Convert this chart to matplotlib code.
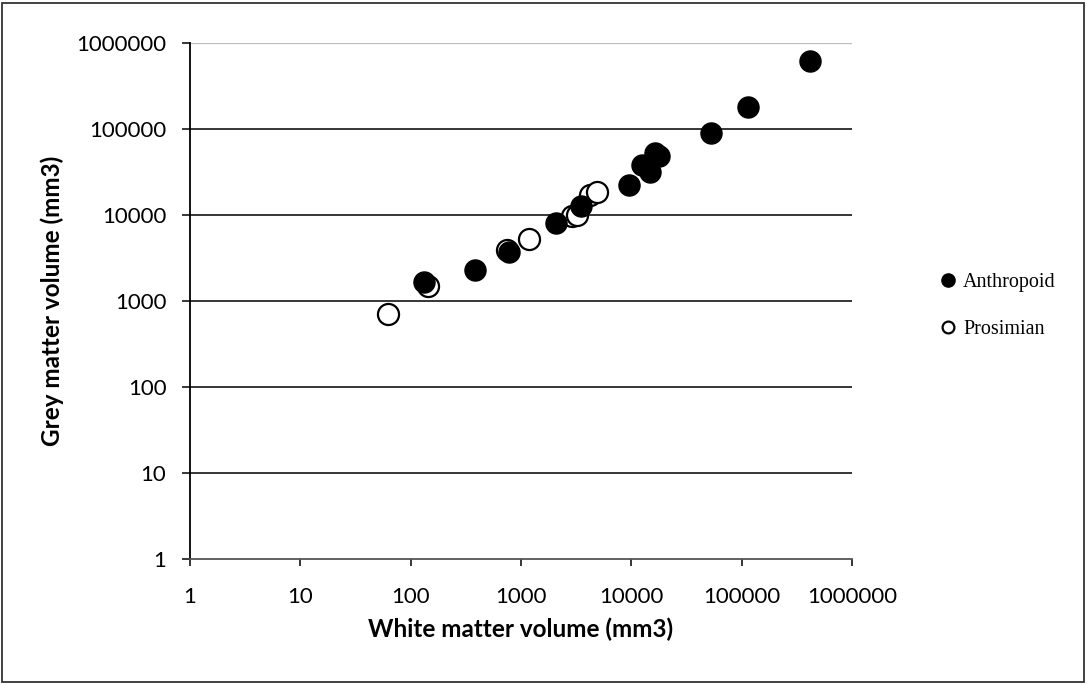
import matplotlib
matplotlib.use("Agg")
import matplotlib.pyplot as plt
from matplotlib.patches import Rectangle
from matplotlib.lines import Line2D

# White / grey matter volumes (mm3)
anthro_white = [133, 381, 780, 2081, 3507, 9610, 12450, 14800, 16430, 18000, 52900, 114000, 420000]
anthro_grey = [1676, 2293, 3715, 8000, 12830, 22500, 38100, 31900, 52200, 48000, 90600, 180000, 622000]

prosim_white = [62, 145, 748, 1184, 2887, 3206, 4230, 4865]
prosim_grey = [700, 1507, 3918, 5260, 9730, 10000, 17100, 18370]

y_ticks = [1, 10, 100, 1000, 10000, 100000, 1000000]
x_ticks = [1, 10, 100, 1000, 10000, 100000, 1000000]

tick_font = "Lato"
serif_font = "Liberation Serif"

fig = plt.figure(figsize=(10.87, 6.84), dpi=100)
ax = fig.add_axes([190 / 1087, 1 - 559 / 684, 662 / 1087, 516 / 684])

# Gridlines: black for inner decades, grey at the top
for v in y_ticks[1:-1]:
    ax.axhline(v, color="black", lw=1.1, zorder=1)
ax.axhline(y_ticks[-1], color="#bdbdbd", lw=1.6, zorder=1)

ax.scatter(prosim_white, prosim_grey, s=230, facecolors="white",
           edgecolors="black", linewidths=1.6, zorder=3)
ax.scatter(anthro_white, anthro_grey, s=230, facecolors="black",
           edgecolors="black", linewidths=1.0, zorder=4)

ax.set_xscale("log")
ax.set_yscale("log")
ax.set_xlim(1, 1000000)
ax.set_ylim(1, 1000000)
ax.set_xticks(x_ticks)
ax.set_yticks(y_ticks)
ax.set_xticklabels([str(v) for v in x_ticks], fontfamily=tick_font, fontsize=16)
ax.set_yticklabels([str(v) for v in y_ticks], fontfamily=tick_font, fontsize=16)
ax.minorticks_off()
ax.tick_params(axis="y", direction="out", length=6, width=1.1, pad=11)
ax.tick_params(axis="x", direction="out", length=5, width=1.1, pad=15)

ax.spines["top"].set_visible(False)
ax.spines["right"].set_visible(False)
ax.spines["left"].set_color("black")
ax.spines["left"].set_linewidth(1.3)
ax.spines["bottom"].set_color("#555555")
ax.spines["bottom"].set_linewidth(1.3)

ax.set_xlabel("White matter volume (mm3)", fontfamily=tick_font, fontweight="bold",
              fontsize=17.5, labelpad=8)
ax.set_ylabel("Grey matter volume (mm3)", fontfamily=tick_font, fontweight="bold",
              fontsize=17.5, labelpad=9)

handles = [
    Line2D([], [], marker="o", linestyle="none", markersize=9.5,
           markerfacecolor="black", markeredgecolor="black", label="Anthropoid"),
    Line2D([], [], marker="o", linestyle="none", markersize=8.5,
           markerfacecolor="white", markeredgecolor="black", markeredgewidth=1.6,
           label="Prosimian"),
]
fig.legend(handles=handles, loc="center left", bbox_to_anchor=(936 / 1087, 1 - 306 / 684),
           frameon=False, prop={"family": serif_font, "size": 14.5},
           borderpad=0, borderaxespad=0,
           handletextpad=0.2, labelspacing=1.4, handlelength=1.15)

# Outer frame around the whole chart
fig.patches.append(Rectangle((0.002, 0.003), 0.995, 0.993, transform=fig.transFigure,
                             fill=False, edgecolor="#333333", lw=1.3))

fig.savefig("out.png", dpi=100)
